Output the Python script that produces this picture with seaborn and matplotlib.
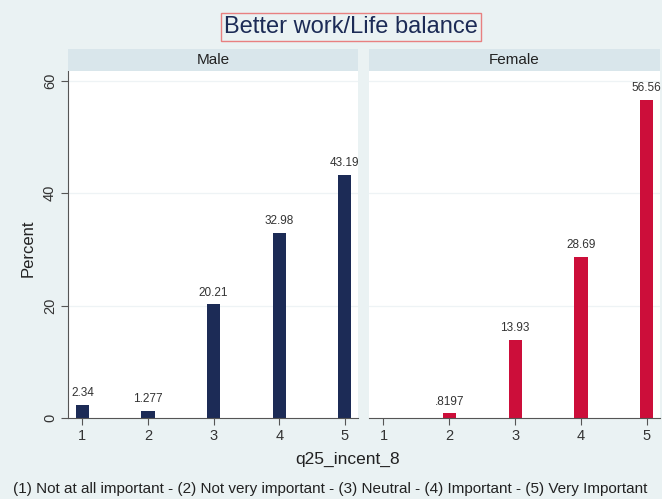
import numpy as np
import pandas as pd
import matplotlib
matplotlib.use("Agg")
import matplotlib.pyplot as plt
import seaborn as sns

# data
levels = [1, 2, 3, 4, 5]
male_pct = [2.34, 1.277, 20.21, 32.98, 43.19]
female_pct = [np.nan, 0.8197, 13.93, 28.69, 56.56]
panels = ["Male", "Female"]
y_ticks = [0, 20, 40, 60]

title = "Better work/Life balance"
x_title = "q25_incent_8"
y_title = "Percent"
note = "(1) Not at all important - (2) Not very important - (3) Neutral - (4) Important - (5) Very Important"

bg = "#eaf2f3"
strip_col = "#d9e6eb"
bar_cols = ["#1c2b56", "#cc0e3a"]
text_col = "#333333"

sns.set_style("white")
plt.rcParams['font.family'] = ['Liberation Sans', 'DejaVu Sans']


def fmt(v):
    s = f"{v:.4g}"
    if s.startswith("0."):
        s = s[1:]
    return s


fig = plt.figure(figsize=(6.62, 4.99), dpi=100)
fig.patch.set_facecolor(bg)

H = 499.0
W = 662.0
panel_x = [(68, 358), (369, 660)]
top, bottom = 71, 418

for i, (name, vals) in enumerate(zip(panels, [male_pct, female_pct])):
    x0, x1 = panel_x[i]
    ax = fig.add_axes([x0 / W, (H - bottom) / H, (x1 - x0) / W, (bottom - top) / H])
    ax.set_facecolor("white")
    df = pd.DataFrame({"level": levels, "pct": vals})
    sns.barplot(data=df, x="level", y="pct", native_scale=True, width=0.2,
                color=bar_cols[i], saturation=1, ax=ax, errorbar=None, linewidth=0)
    for lv, v in zip(levels, vals):
        if np.isnan(v):
            continue
        ax.text(lv, v + 1.0, fmt(v), ha="center", va="bottom", fontsize=8.5, color=text_col)
    ax.set_xlim(0.78, 5.2)
    ax.set_ylim(0, 61.7)
    ax.set_xticks(levels)
    ax.set_xticklabels([str(l) for l in levels], fontsize=10.5, color=text_col)
    ax.set_yticks(y_ticks)
    for yv in y_ticks[1:]:
        ax.axhline(yv, color="#eef3f5", lw=0.9, zorder=0)
    ax.set_xlabel("")
    ax.set_ylabel("")
    ax.tick_params(axis="x", bottom=True, direction="out", length=5, width=0.8,
                   color="#555555", pad=3)
    for s in ["top", "right"]:
        ax.spines[s].set_visible(False)
    ax.spines["bottom"].set_color("#555555")
    ax.spines["bottom"].set_linewidth(0.8)
    if i == 0:
        ax.spines["left"].set_color("#555555")
        ax.spines["left"].set_linewidth(0.8)
        ax.tick_params(axis="y", left=True, direction="out", length=5, width=0.8,
                       color="#555555", pad=3)
        ax.set_yticklabels([str(t) for t in y_ticks], rotation=90, va="center",
                           fontsize=10.5, color=text_col)
    else:
        ax.spines["left"].set_visible(False)
        ax.tick_params(axis="y", left=False, labelleft=False)

    sx = fig.add_axes([x0 / W, (H - top) / H, (x1 - x0) / W, 22 / H])
    sx.set_facecolor(strip_col)
    sx.set_xticks([])
    sx.set_yticks([])
    for s in sx.spines.values():
        s.set_visible(False)
    sx.text(0.5, 0.5, name, ha="center", va="center", fontsize=11, color="#222222",
            transform=sx.transAxes)

fig.text(351 / W, 1 - 27 / H, title, ha="center", va="center", fontsize=17, color="#1c2b56",
         bbox=dict(boxstyle="square,pad=0.12", fc="none", ec="#e88080", lw=1))
fig.text(28 / W, 1 - 248 / H, y_title, rotation=90, ha="center", va="center",
         fontsize=12, color="#222222")
fig.text(348 / W, 1 - 459 / H, x_title, ha="center", va="center", fontsize=12.5, color="#222222")
fig.text(330 / W, 1 - 489 / H, note, ha="center", va="center", fontsize=11, color="#222222")

fig.savefig("out.png", dpi=100, facecolor=bg)
